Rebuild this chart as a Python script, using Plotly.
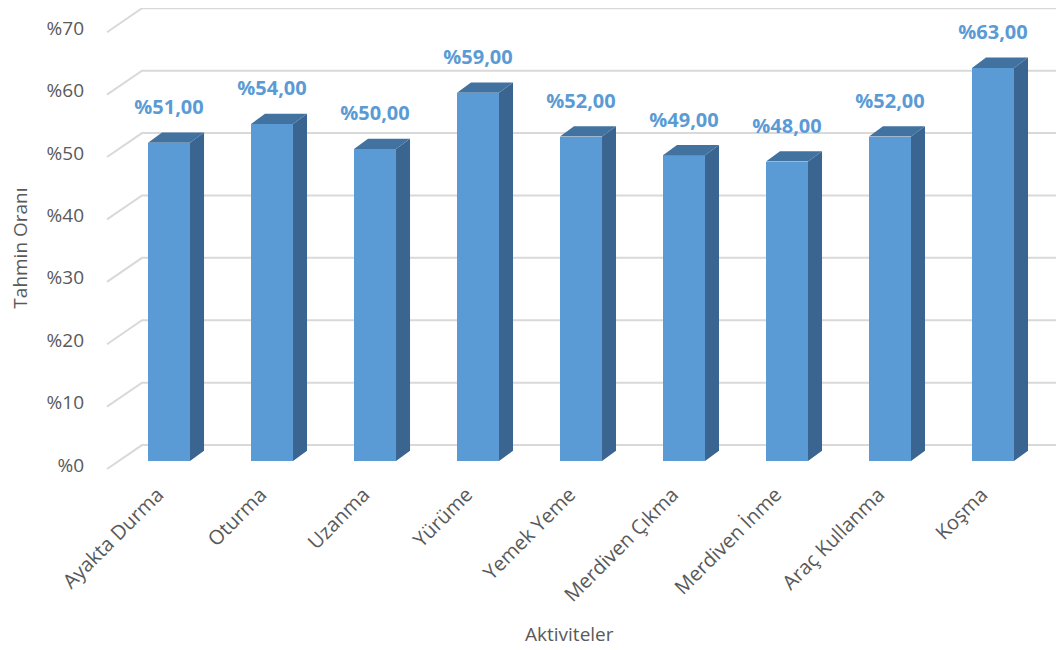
import plotly.graph_objects as go

categories = ["Ayakta Durma", "Oturma", "Uzanma", "Yürüme", "Yemek Yeme",
              "Merdiven Çıkma", "Merdiven İnme", "Araç Kullanma", "Koşma"]
values = [51, 54, 50, 59, 52, 49, 48, 52, 63]
tick_values = [0, 10, 20, 30, 40, 50, 60, 70]
tick_labels = ["%0", "%10", "%20", "%30", "%40", "%50", "%60", "%70"]

FONT = "Open Sans"
TXT = "#595959"
FRONT = "#5B9BD5"
SIDE = "#3A6590"
TOP = "#4273A0"
GRID = "#D9D9D9"

bar_w = 0.408
dx, dy = 0.136, 1.65
x_idx = list(range(len(categories)))

fig = go.Figure()

# front faces
fig.add_trace(go.Bar(x=x_idx, y=values, width=bar_w,
                     marker=dict(color=FRONT, line=dict(width=0)),
                     hoverinfo="skip", showlegend=False))

# side faces and top faces
sx, sy, tx, ty = [], [], [], []
for i, v in zip(x_idx, values):
    r = i + bar_w / 2
    l = i - bar_w / 2
    sx += [r, r + dx, r + dx, r, r, None]
    sy += [0, dy, v + dy, v, 0, None]
    tx += [l, r, r + dx, l + dx, l, None]
    ty += [v, v, v + dy, v + dy, v, None]
fig.add_trace(go.Scatter(x=sx, y=sy, mode="lines", fill="toself", fillcolor=SIDE,
                         line=dict(width=0, color=SIDE), hoverinfo="skip", showlegend=False))
fig.add_trace(go.Scatter(x=tx, y=ty, mode="lines", fill="toself", fillcolor=TOP,
                         line=dict(width=0, color=TOP), hoverinfo="skip", showlegend=False))

# data labels
fig.add_trace(go.Scatter(x=x_idx, y=[v + 5.4 for v in values], mode="text",
                         text=[f"%{v:.2f}".replace(".", ",") for v in values],
                         textposition="middle center",
                         textfont=dict(family=FONT, size=20, color=FRONT, weight="bold"),
                         cliponaxis=False, hoverinfo="skip", showlegend=False))

# 3D gridlines (floor-wall style)
x_front, x_back, x_end = -0.602, -0.262, 8.767
for v in tick_values:
    fig.add_shape(type="path",
                  path=f"M {x_front},{v-1.28} L {x_back},{v+2.56} L {x_end},{v+2.56}",
                  line=dict(color=GRID, width=2), layer="below")

fig.update_layout(
    width=1064, height=650,
    margin=dict(l=92, r=0, t=0, b=180),
    paper_bgcolor="white", plot_bgcolor="white",
    bargap=0,
    xaxis=dict(range=[-0.67, 8.767], tickvals=[i - 0.11 for i in x_idx], ticktext=categories,
               tickangle=-45, showgrid=False, zeroline=False, showline=False,
               ticks="", ticklabelstandoff=0,
               tickfont=dict(family=FONT, size=20, color=TXT)),
    yaxis=dict(range=[-2.72, 72.6], tickvals=[v - 0.64 for v in tick_values],
               ticktext=tick_labels, showgrid=False, zeroline=False, showline=False,
               ticks="", ticklabelstandoff=15,
               tickfont=dict(family=FONT, size=19, color=TXT)),
    annotations=[
        dict(text="Tahmin Oranı", xref="paper", yref="paper", x=-0.0823, y=0.488,
             xanchor="center", yanchor="middle", textangle=-90, showarrow=False,
             font=dict(family=FONT, size=19, color=TXT)),
        dict(text="Aktiviteler", xref="paper", yref="paper", x=0.4835, y=-0.332,
             xanchor="center", yanchor="middle", showarrow=False,
             font=dict(family=FONT, size=19, color=TXT)),
    ],
)

fig.write_html("out.html")
